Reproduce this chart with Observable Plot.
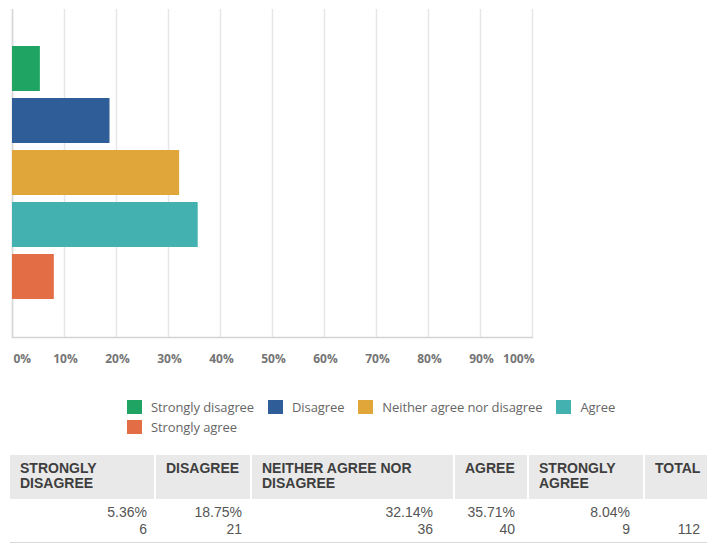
<!DOCTYPE html>
<html>
<head>
<meta charset="utf-8">
<script src="https://cdn.jsdelivr.net/npm/d3@7"></script>
<script src="https://cdn.jsdelivr.net/npm/@observablehq/plot@0.6"></script>
<style>
  body { margin: 0; background: #fff; width: 707px; overflow: hidden; }
  #chart svg { display: block; }
  .legend { margin-top: 25px; padding-left: 127px; font-family: "Open Sans", sans-serif; font-size: 13px; color: #666; letter-spacing: -0.1px; }
  .legend .row { display: flex; height: 20px; align-items: center; }
  .legend .item { display: flex; align-items: center; margin-right: 14px; }
  .legend .sw { width: 15px; height: 14px; margin-right: 9px; }
  table { margin-top: 18px; margin-left: 10px; width: 697px; table-layout: fixed; border-collapse: separate; border-spacing: 0; font-family: "Liberation Sans", Arial, sans-serif; }
  th { background: #e9e9e9; color: #3e3e3e; font-size: 14px; font-weight: 700; line-height: 15px; text-align: left; vertical-align: top; padding: 6px 4px 8px 10px; border-left: 2px solid #fff; }
  th:first-child { border-left: none; }
  td { color: #555; font-size: 14px; line-height: 17px; text-align: right; vertical-align: top; padding: 5px 8px 4px 4px; border-bottom: 1px solid #d9d9d9; }
</style>
</head>
<body>
<div id="chart"></div>
<script>
const categories = ["Strongly disagree", "Disagree", "Neither agree nor disagree", "Agree", "Strongly agree"];
const percents = [5.36, 18.75, 32.14, 35.71, 8.04];
const counts = [6, 21, 36, 40, 9];
const total = 112;
const colors = ["#1fa463", "#2f5d98", "#e0a63a", "#43b1b0", "#e36d44"];
const xTicks = [0, 10, 20, 30, 40, 50, 60, 70, 80, 90, 100];
const headers = ["STRONGLY DISAGREE", "DISAGREE", "NEITHER AGREE NOR DISAGREE", "AGREE", "STRONGLY AGREE", "TOTAL"];

const bars = categories.map((c, i) => ({category: c, pct: percents[i]}));
const fmt = d => d + "%";
const labelStyle = {frameAnchor: "bottom", dy: 22, lineAnchor: "middle", fill: "#757575", fontSize: 12, fontWeight: 700, fontFamily: "Open Sans, sans-serif"};

const chart = Plot.plot({
  width: 707,
  height: 372,
  marginLeft: 12,
  marginRight: 175,
  marginTop: 9,
  marginBottom: 35,
  x: {domain: [0, 100], axis: null},
  y: {domain: categories, axis: null, paddingInner: 0.13, paddingOuter: 0.7},
  color: {domain: categories, range: colors},
  marks: [
    Plot.ruleX(xTicks, {stroke: "#e6e6e6", strokeWidth: 1.5}),
    Plot.ruleX([0], {stroke: "#d8d8d8", strokeWidth: 1.5}),
    Plot.frame({anchor: "bottom", stroke: "#d4d4d4", strokeWidth: 1.5}),
    Plot.barX(bars, {x: "pct", y: "category", fill: "category"}),
    Plot.text(xTicks.slice(0, 1), {...labelStyle, x: d => d, text: fmt, textAnchor: "start", dx: 1}),
    Plot.text(xTicks.slice(1, -1), {...labelStyle, x: d => d, text: fmt, textAnchor: "middle", dx: 1}),
    Plot.text(xTicks.slice(-1), {...labelStyle, x: d => d, text: fmt, textAnchor: "end", dx: 2})
  ]
});
document.getElementById("chart").appendChild(chart);

// Legend
const legend = document.createElement("div");
legend.className = "legend";
const rows = [categories.slice(0, 4), categories.slice(4)];
rows.forEach(rowCats => {
  const row = document.createElement("div");
  row.className = "row";
  rowCats.forEach(c => {
    const item = document.createElement("div");
    item.className = "item";
    const sw = document.createElement("div");
    sw.className = "sw";
    sw.style.background = colors[categories.indexOf(c)];
    const t = document.createElement("span");
    t.textContent = c;
    item.appendChild(sw);
    item.appendChild(t);
    row.appendChild(item);
  });
  legend.appendChild(row);
});
document.body.appendChild(legend);

// Table
const colWidths = [144, 96, 203, 74, 116, 64];
const padRight = [7, 8, 20, 12, 13, 7];
const table = document.createElement("table");
const colgroup = document.createElement("colgroup");
colWidths.forEach(w => { const col = document.createElement("col"); col.style.width = w + "px"; colgroup.appendChild(col); });
table.appendChild(colgroup);
const thead = document.createElement("tr");
headers.forEach(h => { const th = document.createElement("th"); th.textContent = h; thead.appendChild(th); });
table.appendChild(thead);
const tr = document.createElement("tr");
const cells = percents.map((p, i) => [p.toFixed(2) + "%", String(counts[i])]).concat([["\u00a0", String(total)]]);
cells.forEach((lines, i) => {
  const td = document.createElement("td");
  td.style.paddingRight = padRight[i] + "px";
  td.innerHTML = lines.join("<br>");
  tr.appendChild(td);
});
table.appendChild(tr);
document.body.appendChild(table);
</script>
</body>
</html>
